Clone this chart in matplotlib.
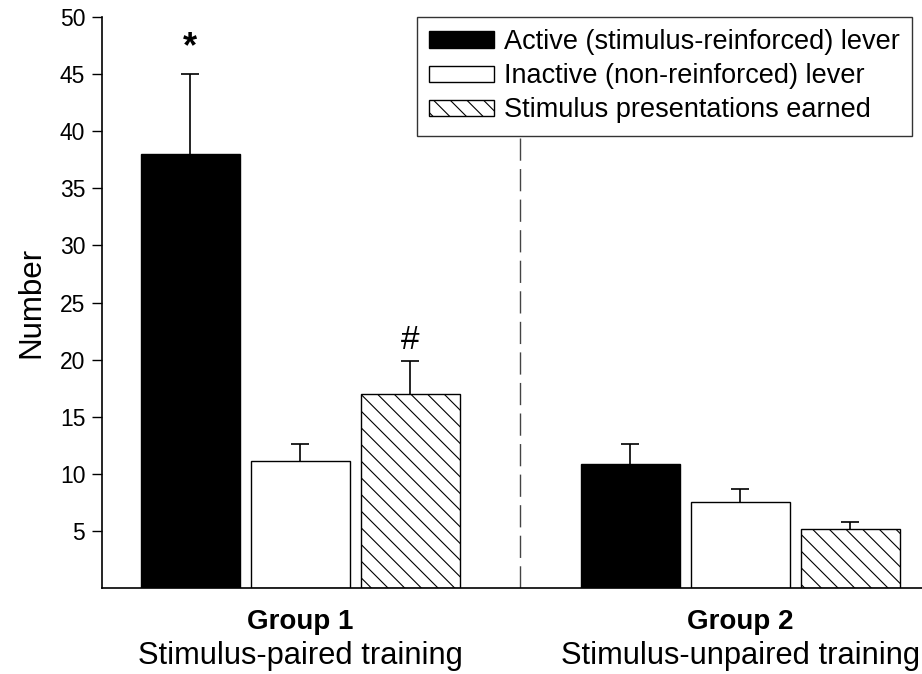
import numpy as np
import matplotlib.pyplot as plt

plt.rcParams['font.family'] = ['Liberation Sans', 'DejaVu Sans']
plt.rcParams['hatch.linewidth'] = 0.8

series = ['Active (stimulus-reinforced) lever',
          'Inactive (non-reinforced) lever',
          'Stimulus presentations earned']
groups = ['Group 1', 'Group 2']
subtitles = ['Stimulus-paired training', 'Stimulus-unpaired training']

# mean per group for each series, and SEM (upper whisker only)
active = [38.0, 10.9]
inactive = [11.1, 7.5]
stimulus = [17.0, 5.2]
active_sem = [7.0, 1.7]
inactive_sem = [1.5, 1.2]
stimulus_sem = [2.9, 0.6]

marks = {(0, 0): '*', (0, 2): '#'}

values = [active, inactive, stimulus]
sems = [active_sem, inactive_sem, stimulus_sem]
faces = ['black', 'white', 'white']
hatches = [None, None, '\\\\']

fig = plt.figure(figsize=(9.22, 6.74), dpi=100)
ax = fig.add_axes([102 / 922, 1 - 588 / 674, 820 / 922, 571 / 674])

centers = np.array([0.0, 4.0])
width = 0.9
handles = []
for i, (vals, err) in enumerate(zip(values, sems)):
    x = centers + (i - 1)
    b = ax.bar(x, vals, width, color=faces[i], edgecolor='black',
               linewidth=1.0, hatch=hatches[i], label=series[i], zorder=2)
    handles.append(b)
    eb = ax.errorbar(x, vals, yerr=[np.zeros(len(vals)), err], fmt='none',
                     ecolor='black', elinewidth=1.2, capsize=6.5,
                     capthick=1.2, zorder=1)
    eb[1][0].set_visible(False)  # no cap on the lower side
    for g in range(len(groups)):
        if (g, i) in marks:
            s = marks[(g, i)]
            ax.text(x[g], vals[g] + err[g] + (0.8 if s == '*' else 0.4), s,
                    ha='center', va='bottom',
                    fontsize=26 if s == '*' else 24,
                    fontweight='bold' if s == '*' else 'normal')

# separator between the two groups
ax.axvline(centers.mean(), ymin=0, ymax=0.8, color='#444444', lw=1.0,
           dashes=(16, 6))

ax.set_xlim(-1.8, 5.65)
ax.set_ylim(0, 50)
ax.set_yticks(np.arange(5, 51, 5))
ax.set_xticks([])
ax.tick_params(axis='y', direction='out', length=7, width=1.0,
               labelsize=16.5, pad=5)
for side in ['top', 'right']:
    ax.spines[side].set_visible(False)
for side in ['left', 'bottom']:
    ax.spines[side].set_linewidth(1.2)
ax.set_ylabel('Number', fontsize=22.5, labelpad=10)

for c, g, s in zip(centers, groups, subtitles):
    ax.text(c, -1.85, g, ha='center', va='top', fontsize=20,
            fontweight='bold', transform=ax.transData, clip_on=False)
    ax.text(c, -4.6, s, ha='center', va='top', fontsize=22.2,
            transform=ax.transData, clip_on=False)

leg = fig.legend(handles=handles, loc='upper right',
                 bbox_to_anchor=(912 / 922, 1 - 17 / 674), fontsize=19.5,
                 frameon=True, fancybox=False, edgecolor='black',
                 handlelength=2.4, handleheight=0.55, handletextpad=0.35,
                 labelspacing=0.3, borderpad=0.45, borderaxespad=0)
leg.get_frame().set_linewidth(1.0)

fig.savefig('out.png', dpi=100)
